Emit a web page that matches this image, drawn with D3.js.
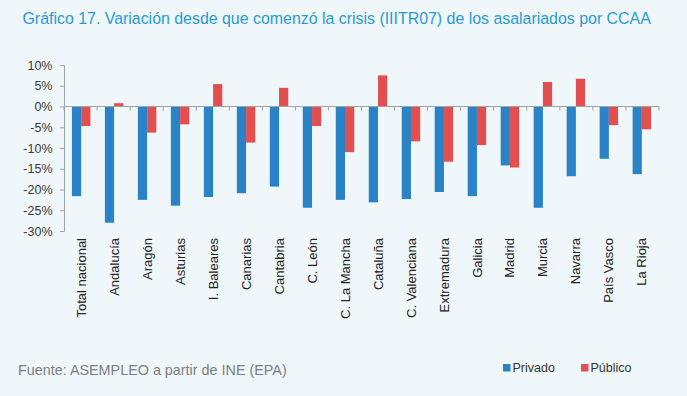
<!DOCTYPE html>
<html><head><meta charset="utf-8">
<script src="https://cdn.jsdelivr.net/npm/d3@7"></script>
<style>
html,body{margin:0;padding:0;background:#eff7fb;}
svg{display:block;font-family:"Liberation Sans",Arial,sans-serif;}
</style></head>
<body><svg id="c" width="687" height="396"></svg>
<script>
const categories = ["Total nacional","Andalucía","Aragón","Asturias","I. Baleares","Canarias","Cantabria","C. León","C. La Mancha","Cataluña","C. Valenciana","Extremadura","Galicia","Madrid","Murcia","Navarra","País Vasco","La Rioja"];
const privado = [-21.6,-28.0,-22.5,-23.9,-21.8,-20.9,-19.3,-24.4,-22.5,-23.1,-22.3,-20.6,-21.6,-14.2,-24.4,-16.8,-12.6,-16.3];
const publico = [-4.7,0.8,-6.3,-4.3,5.4,-8.7,4.5,-4.7,-11.0,7.5,-8.4,-13.3,-9.3,-14.7,5.9,6.7,-4.5,-5.5];
const seriesNames = ["Privado","Público"];
const yTicks = [10,5,0,-5,-10,-15,-20,-25,-30];
const title = "Gráfico 17. Variación desde que comenzó la crisis (IIITR07) de los asalariados por CCAA";
const source = "Fuente: ASEMPLEO a partir de INE (EPA)";

const colors = ["#2a83c6","#e24f4f"];
const svg = d3.select("#c");
svg.append("rect").attr("width",687).attr("height",396).attr("fill","#eff7fb");

function fit(sel, size, target){
  sel.style("font-size",size+"px");
  const w = sel.node().getComputedTextLength();
  sel.style("font-size",(size*target/w)+"px");
}

// title
const t = svg.append("text").attr("x",22.5).attr("y",24).attr("fill","#2a9ad6").text(title);
fit(t,15,629);

const x0 = d3.scaleBand().domain(categories).range([64,659]).paddingInner(0.44).paddingOuter(0.24);
const x1 = d3.scaleBand().domain(seriesNames).range([0,x0.bandwidth()]);
const y = d3.scaleLinear().domain([-30,10]).range([231,65]);

const data = categories.map((c,i)=>({c, v:[privado[i],publico[i]]}));

const g = svg.append("g");
g.selectAll("g.cat").data(data).join("g").attr("class","cat")
  .attr("transform",d=>`translate(${x0(d.c)},0)`)
  .selectAll("rect").data(d=>d.v.map((v,k)=>({v,k}))).join("rect")
  .attr("x",d=>x1(seriesNames[d.k]))
  .attr("width",x1.bandwidth())
  .attr("y",d=>y(Math.max(0,d.v)))
  .attr("height",d=>Math.abs(y(d.v)-y(0)))
  .attr("fill",d=>colors[d.k]);

// y axis
const yAxis = d3.axisLeft(y).tickValues(yTicks).tickSize(4).tickFormat(d=>d+"%");
const ya = svg.append("g").attr("transform","translate(64,0)").call(yAxis);
ya.select(".domain").attr("stroke","#a0a4a8");
ya.selectAll(".tick line").attr("stroke","#a0a4a8");
ya.selectAll(".tick text").attr("fill","#3a3a3a").style("font-size","12.5px").attr("x",-11.5)
  .style("font-family","'Liberation Sans',Arial,sans-serif");

// zero line with category boundary ticks
const zl = svg.append("g");
zl.append("line").attr("x1",64).attr("x2",659).attr("y1",y(0)).attr("y2",y(0)).attr("stroke","#a0a4a8");
const bounds = d3.range(categories.length+1).map(i=>64+i*(595/categories.length));
zl.selectAll("line.b").data(bounds).join("line").attr("class","b")
  .attr("x1",d=>d).attr("x2",d=>d).attr("y1",y(0)).attr("y2",y(0)+4).attr("stroke","#a0a4a8");

// x labels
svg.append("g").selectAll("text").data(categories).join("text")
  .attr("transform",d=>`translate(${x0(d)+x0.bandwidth()/2},238) rotate(-90)`)
  .attr("text-anchor","end").attr("dy","0.35em")
  .attr("fill","#222").style("font-size","13px").text(d=>d);

// source
const s = svg.append("text").attr("x",18).attr("y",375).attr("fill","#7a7f84").text(source);
fit(s,13.5,269);

// legend
const lg = svg.append("g");
const lx = [503,581];
seriesNames.forEach((s,k)=>{
  lg.append("rect").attr("x",lx[k]).attr("y",364).attr("width",7.5).attr("height",7.5).attr("fill",colors[k]);
  lg.append("text").attr("x",lx[k]+9.5).attr("y",372).attr("fill","#333").style("font-size","12.5px").text(s);
});
</script></body></html>
